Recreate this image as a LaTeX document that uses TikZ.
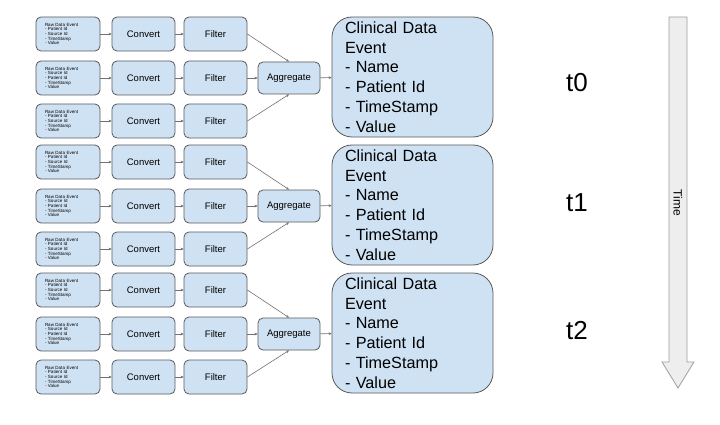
\documentclass[tikz,border=0pt]{standalone}
\usepackage{fontspec}
\setmainfont{Liberation Sans}
\usetikzlibrary{arrows.meta}
\definecolor{boxfill}{HTML}{CFE2F3}
\definecolor{boxline}{HTML}{595959}
\definecolor{arrowline}{HTML}{707070}
\definecolor{timefill}{HTML}{EEEEEE}
\definecolor{timeline}{HTML}{9E9E9E}
\tikzset{
  base/.style={draw=boxline, fill=boxfill, line width=0.8pt, rounded corners=5pt, inner sep=0pt},
  rawbox/.style={base, minimum width=64pt, minimum height=34pt, text width=46pt, align=left,
    font=\fontsize{4.5}{4.6}\selectfont},
  procbox/.style={base, minimum width=63pt, minimum height=34pt, font=\fontsize{9.5}{11}\selectfont},
  aggbox/.style={base, minimum width=62pt, minimum height=32pt, font=\fontsize{9.5}{11}\selectfont},
  clinbox/.style={base, rounded corners=20pt, minimum width=161pt, minimum height=120pt,
    text width=135pt, inner xsep=13pt, align=left, font=\fontsize{16.2}{19.8}\selectfont},
  tlabel/.style={font=\fontsize{26}{30}\selectfont},
  conn/.style={draw=arrowline, line width=0.6pt, -{Stealth[length=3pt,width=2.8pt]}},
}
\newcommand{\rawA}{Raw Data Event\\- Patient Id\\- Source Id\\- TimeStamp\\- Value}
\newcommand{\rawB}{Raw Data Event\\- Source Id\\- Patient Id\\- TimeStamp\\- Value}
\begin{document}
\begin{tikzpicture}[x=1pt,y=-1pt]
\useasboundingbox (0,0) rectangle (720,425);
\foreach \g/\oy/\ty in {0/0/83, 1/128/203, 2/256/331}{
  \node[rawbox] (r\g a) at (68,34+\oy) {\rawA};
  \node[rawbox] (r\g b) at (68,78+\oy) {\rawB};
  \node[rawbox] (r\g c) at (68,121+\oy) {\rawA};
  \node[procbox] (c\g a) at (143.5,34+\oy) {Convert};
  \node[procbox] (c\g b) at (143.5,78+\oy) {Convert};
  \node[procbox] (c\g c) at (143.5,121+\oy) {Convert};
  \node[procbox] (f\g a) at (215.5,34+\oy) {Filter};
  \node[procbox] (f\g b) at (215.5,78+\oy) {Filter};
  \node[procbox] (f\g c) at (215.5,121+\oy) {Filter};
  \node[aggbox] (a\g) at (289,78+\oy) {Aggregate};
  \node[clinbox] (k\g) at (412.5,77+\oy) {Clinical Data\\Event\\- Name\\- Patient Id\\- TimeStamp\\- Value};
  \node[tlabel] (t\g) at (577,\ty) {t\g};
  \foreach \r in {a,b,c}{
    \draw[conn] (r\g\r) -- (c\g\r);
    \draw[conn] (c\g\r) -- (f\g\r);
  }
  \draw[conn] (f\g a.east) -- (a\g.north);
  \draw[conn] (f\g b) -- (a\g);
  \draw[conn] (f\g c.east) -- (a\g.south);
  \draw[conn] (a\g) -- (k\g);
}
\draw[draw=timeline, fill=timefill, line width=0.8pt]
  (669,17) -- (687,17) -- (687,362) -- (694,362) -- (678,388) -- (662,362) -- (669,362) -- cycle;
\node[rotate=-90, font=\fontsize{12}{14}\selectfont] (time) at (678,203) {Time};
\end{tikzpicture}
\end{document}
